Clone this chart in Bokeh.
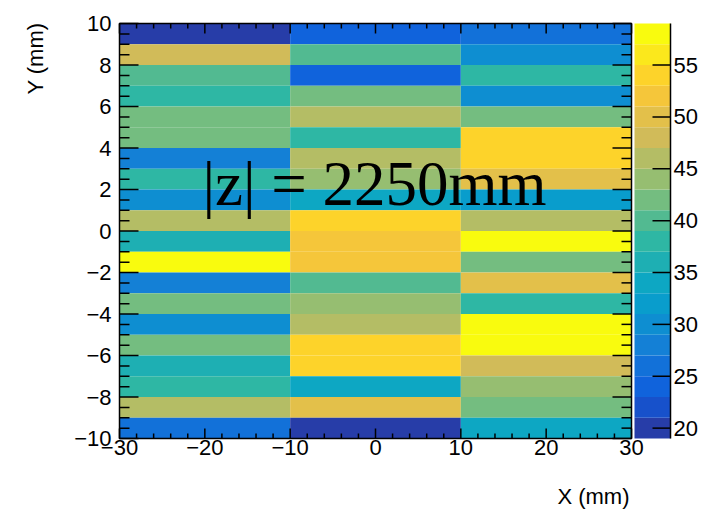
import numpy as np
from bokeh.plotting import figure
from bokeh.models import Range1d, LinearColorMapper, ColumnDataSource
from bokeh.core.properties import value
from bokeh.embed import file_html
from bokeh.resources import INLINE

# ---------------- data ----------------
x_edges = [-30, -10, 10, 30]
y_top_edges = [10, 9, 8, 7, 6, 5, 4, 3, 2, 1, 0, -1, -2, -3, -4, -5, -6, -7, -8, -9]  # rows, top -> bottom
col_left = [19, 48.5, 40, 38, 42, 42, 28, 37, 30, 46, 36, 59, 28, 42, 29, 42, 36, 38, 46.5, 26]
col_mid = [24.5, 40, 24.5, 41, 46, 38, 46, 43, 33, 54, 52, 51, 40, 44, 46.5, 54, 54, 33, 49, 19.5]
col_right = [25, 29.5, 37, 29.5, 42, 54, 54, 50, 31, 46, 58.5, 42, 49, 37, 57.5, 58.5, 48.5, 44.5, 42.5, 33]
z_min, z_max = 19, 59
n_levels = 20
x_ticks = [-30, -20, -10, 0, 10, 20, 30]
x_tick_labels = ["\u221230", "\u221220", "\u221210", "0", "10", "20", "30"]
y_ticks = [-10, -8, -6, -4, -2, 0, 2, 4, 6, 8, 10]
y_tick_labels = ["\u221210", "\u22128", "\u22126", "\u22124", "\u22122", "0", "2", "4", "6", "8", "10"]
z_ticks = [20, 25, 30, 35, 40, 45, 50, 55]
z_tick_labels = ["20", "25", "30", "35", "40", "45", "50", "55"]
annotation = "|z| = 2250mm"
x_title = "X (mm)"
y_title = "Y (mm)"

# ---------------- palette (ROOT kBird, 20 contour levels) ----------------
stops = [0.0, 0.125, 0.25, 0.375, 0.5, 0.625, 0.75, 0.875, 1.0]
red = [0.2082, 0.0592, 0.0780, 0.0232, 0.1802, 0.5301, 0.8186, 0.9956, 0.9764]
green = [0.1664, 0.3599, 0.5041, 0.6419, 0.7178, 0.7492, 0.7328, 0.7862, 0.9832]
blue = [0.5293, 0.8684, 0.8385, 0.7914, 0.6425, 0.4662, 0.3499, 0.1968, 0.0539]
palette = []
for i in range(n_levels):
    idx = int((i + 0.99) * 255 / n_levels)
    t = idx / 254.0
    r = np.interp(t, stops, red); g = np.interp(t, stops, green); b = np.interp(t, stops, blue)
    palette.append("#%02x%02x%02x" % (int(round(r * 255)), int(round(g * 255)), int(round(b * 255))))

# ---------------- layout geometry (pixels) ----------------
W, H = 712, 509
FL, FR, FT, FB = 119, 631, 23, 438      # heatmap frame
CB_L, CB_R = 634, 670                   # colour bar
xscale = (FR - FL) / (x_edges[-1] - x_edges[0])
yscale = (FB - FT) / 20.0
zscale = (FB - FT) / (z_max - z_min)

def xd(px):
    return x_edges[0] + (px - FL) / xscale

def yd(py):
    return 10 - (py - FT) / yscale

def zd(py):
    return z_max - (py - FT) / zscale

p = figure(width=W, height=H, x_range=Range1d(xd(0), xd(W)), y_range=Range1d(yd(H), yd(0)),
           min_border_left=0, min_border_right=0, min_border_top=0, min_border_bottom=0,
           x_axis_location=None, y_axis_location=None, toolbar_location=None, output_backend="svg")
p.outline_line_color = None
p.grid.visible = False
p.background_fill_color = "white"
p.border_fill_color = "white"
p.extra_y_ranges = {"cb": Range1d(zd(H), zd(0))}

FONT = value("Liberation Sans")
FS = value("22px")
LW = 1.5

# ---------------- heatmap ----------------
L, R, T, B, V = [], [], [], [], []
for ci, col in enumerate([col_left, col_mid, col_right]):
    for ri, v in enumerate(col):
        L.append(x_edges[ci]); R.append(x_edges[ci + 1])
        T.append(y_top_edges[ri]); B.append(y_top_edges[ri] - 1)
        V.append(v)
src = ColumnDataSource(dict(left=L, right=R, top=T, bottom=B, val=V))
mapper = LinearColorMapper(palette=palette, low=z_min, high=z_max)
p.quad(left="left", right="right", top="top", bottom="bottom", source=src,
       fill_color={"field": "val", "transform": mapper}, line_color=None)

# frame box
p.quad(left=[x_edges[0]], right=[x_edges[-1]], bottom=[-10], top=[10], fill_color=None,
       line_color="black", line_width=LW)

# ticks (inside the frame, on all four sides)
x_minor = [v for v in range(-30, 31, 2) if v not in x_ticks]
y_minor = [float(v) for v in np.arange(-10, 10.01, 0.5) if v not in y_ticks]
p.ray(x=[x_edges[0]] * len(y_ticks), y=y_ticks, length=19, angle=0, length_units="screen", line_color="black", line_width=LW)
p.ray(x=[x_edges[0]] * len(y_minor), y=y_minor, length=10, angle=0, length_units="screen", line_color="black", line_width=LW)
p.ray(x=[x_edges[-1]] * len(y_ticks), y=y_ticks, length=19, angle=np.pi, length_units="screen", line_color="black", line_width=LW)
p.ray(x=[x_edges[-1]] * len(y_minor), y=y_minor, length=10, angle=np.pi, length_units="screen", line_color="black", line_width=LW)
p.ray(x=x_ticks, y=[-10] * len(x_ticks), length=10, angle=np.pi / 2, length_units="screen", line_color="black", line_width=LW)
p.ray(x=x_minor, y=[-10] * len(x_minor), length=5, angle=np.pi / 2, length_units="screen", line_color="black", line_width=LW)
p.ray(x=x_ticks, y=[10] * len(x_ticks), length=10, angle=-np.pi / 2, length_units="screen", line_color="black", line_width=LW)
p.ray(x=x_minor, y=[10] * len(x_minor), length=5, angle=-np.pi / 2, length_units="screen", line_color="black", line_width=LW)

# tick labels
p.text(x=[x_edges[0]] * len(y_ticks), y=y_ticks, text=y_tick_labels, x_offset=-8, text_align="right",
       text_baseline="middle", text_font=FONT, text_font_size=FS, text_color="black")
p.text(x=x_ticks, y=[-10] * len(x_ticks), text=x_tick_labels, y_offset=1, text_align="center",
       text_baseline="top", text_font=FONT, text_font_size=FS, text_color="black")

# ---------------- colour bar ----------------
levels = np.linspace(z_min, z_max, n_levels + 1)
cb_src = ColumnDataSource(dict(bottom=levels[:-1], top=levels[1:], color=palette))
p.quad(left=xd(CB_L), right=xd(CB_R), bottom="bottom", top="top", fill_color="color", line_color=None,
       source=cb_src, y_range_name="cb")
p.segment(x0=[xd(CB_R)], x1=[xd(CB_R)], y0=[z_min], y1=[z_max], line_color="black", line_width=LW,
          y_range_name="cb")
p.ray(x=[xd(CB_R)] * len(z_ticks), y=z_ticks, length=18, angle=np.pi, length_units="screen",
      line_color="black", line_width=LW, y_range_name="cb")
p.text(x=[xd(CB_R)] * len(z_ticks), y=z_ticks, text=z_tick_labels, x_offset=3, text_align="left",
       text_baseline="middle", text_font=FONT, text_font_size=FS, text_color="black", y_range_name="cb")

# ---------------- titles ----------------
p.text(x=[xd(629)], y=[yd(496)], text=[x_title], text_align="right", text_baseline="middle",
       text_font=FONT, text_font_size=FS, text_color="black")
p.text(x=[xd(35)], y=[yd(22)], text=[y_title], angle=np.pi / 2, text_align="right", text_baseline="middle",
       text_font=FONT, text_font_size=FS, text_color="black")

# in-plot annotation
p.text(x=[xd(374)], y=[yd(183)], text=[annotation], text_align="center", text_baseline="alphabetic",
       text_font=value("Liberation Serif"), text_font_size=value("63px"), text_color="black")

open("out.html", "w").write(file_html(p, INLINE))
